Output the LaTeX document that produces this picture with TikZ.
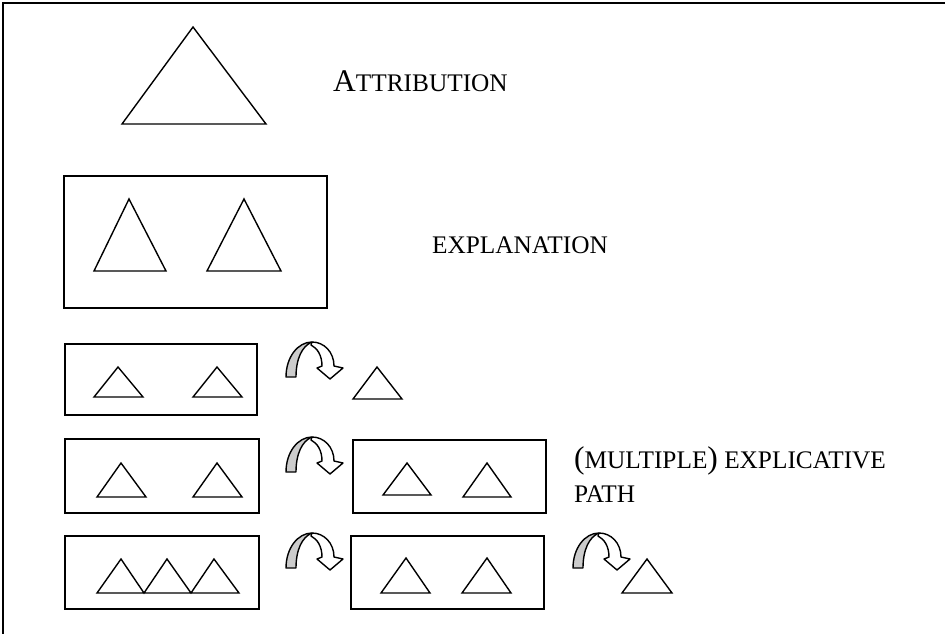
\documentclass[tikz,border=0pt]{standalone}
\usepackage{fontspec}
\setmainfont{Liberation Serif}
\tikzset{
  frame/.style={line width=2.2pt},
  panel/.style={draw, line width=1.7pt, fill=white},
  tri/.style={draw, line width=1.4pt, line join=miter},
  lbl/.style={anchor=base west, inner sep=0pt, font=\fontsize{25.3}{34}\selectfont},
  uturn/.pic={
    \draw[line width=1.4pt, fill=white, line join=round]
      (26,-35) .. controls (38,-35) and (48,-25) .. (48,-11)
      -- (57,-9) -- (44,2) -- (31,-9) -- (36,-11)
      .. controls (36,-22) and (31,-29) .. (25,-32) -- cycle;
    \draw[line width=1.4pt, fill=gray!40, line join=round]
      (0,0) .. controls (0,-20) and (12,-35) .. (26,-35)
      .. controls (16,-31) and (10,-18) .. (10,0) -- cycle;
  }
}
\begin{document}
\begin{tikzpicture}[x=1pt,y=-1pt]
\useasboundingbox (0,0) rectangle (945,634);
% frame
\coordinate (fbl) at (3,634);
\coordinate (ftl) at (3,3);
\coordinate (ftr) at (945,3);
\draw[frame] (fbl) -- (ftl) -- (ftr);

% attribution
\draw[tri] (122,124) -- (193,27) -- (266,124) -- cycle;
\node[lbl] (attr) at (333,92) {{\fontsize{31.5}{31.5}\selectfont A}TTRIBUTION};

% explanation
\node[panel, minimum width=263pt, minimum height=132pt, anchor=north west] (expl) at (63,175) {};
\draw[tri] (94,271) -- (129,199) -- (166,271) -- cycle;
\draw[tri] (207,271) -- (244,199) -- (281,271) -- cycle;
\node[lbl] (explt) at (432,253) {EXPLANATION};

% row 3
\node[panel, minimum width=192pt, minimum height=71pt, anchor=north west] (a1) at (64,343) {};
\draw[tri] (94,397) -- (118,367) -- (143,397) -- cycle;
\draw[tri] (193,397) -- (217,367) -- (242,397) -- cycle;
\pic at (286,377) {uturn};
\draw[tri] (353,399) -- (377,367) -- (402,399) -- cycle;

% row 4
\node[panel, minimum width=194pt, minimum height=74pt, anchor=north west] (b1) at (64,438) {};
\draw[tri] (97,497) -- (121,463) -- (146,497) -- cycle;
\draw[tri] (193,497) -- (217,463) -- (242,497) -- cycle;
\pic at (286,472) {uturn};
\node[panel, minimum width=193pt, minimum height=73pt, anchor=north west] (b2) at (352,439) {};
\draw[tri] (383,495) -- (407,463) -- (431,495) -- cycle;
\draw[tri] (463,497) -- (487,463) -- (511,497) -- cycle;
\node[lbl] (mult) at (574,468) {{\fontsize{31.5}{31.5}\selectfont(}MULTIPLE{\fontsize{31.5}{31.5}\selectfont)} EXPLICATIVE};
\node[lbl] (path) at (574,502) {PATH};

% row 5
\node[panel, minimum width=194pt, minimum height=73pt, anchor=north west] (c1) at (64,535) {};
\draw[tri] (97,593) -- (121,559) -- (144,593) -- (167,559) -- (191,593) -- (214,559) -- (239,593) -- cycle;
\pic at (286,568) {uturn};
\node[panel, minimum width=193pt, minimum height=73pt, anchor=north west] (c2) at (350,535) {};
\draw[tri] (381,593) -- (406,558) -- (430,593) -- cycle;
\draw[tri] (462,593) -- (487,558) -- (511,593) -- cycle;
\pic at (573,568) {uturn};
\draw[tri] (622,593) -- (647,559) -- (672,593) -- cycle;
\end{tikzpicture}
\end{document}
